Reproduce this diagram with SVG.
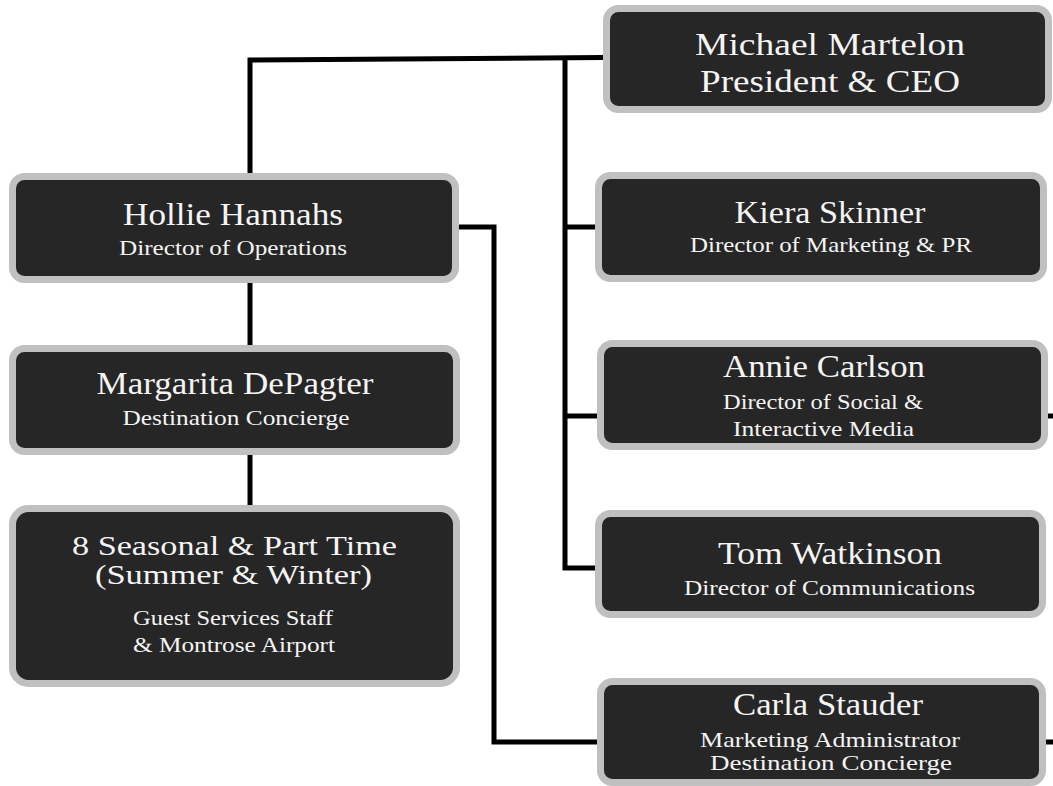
<svg xmlns="http://www.w3.org/2000/svg" width="1053" height="786" viewBox="0 0 1053 786">
<style>
.box{fill:#262626;stroke:#c0c0c0;stroke-width:7}
.t{font-family:"Liberation Serif","Times New Roman",serif;fill:#f4f4f4;text-anchor:middle}
.n{font-size:31px}
.m{font-size:27px}
.s{font-size:21px}
.c{fill:none;stroke:#000;stroke-width:5;stroke-linejoin:miter}
</style>
<rect width="1053" height="786" fill="#fff"/>
<g id="connectors">
<path class="c" d="M250,173 V60 L603,57.5"/>
<path class="c" d="M565,57.5 V568 H597"/>
<path class="c" d="M565,227 H597"/>
<path class="c" d="M565,416 H599"/>
<path class="c" d="M459,227 H494 V742 H599"/>
<path class="c" d="M250,283 V347"/>
<path class="c" d="M250,455 V507"/>
<path class="c" d="M1046,416 H1053"/>
<path class="c" d="M1044,742 H1053"/>
</g>
<g id="michael">
<rect class="box" x="606.5" y="8.5" width="442" height="101" rx="12"/>
<text class="t n" x="830" y="55" textLength="270" lengthAdjust="spacingAndGlyphs">Michael Martelon</text>
<text class="t n" x="830" y="92" textLength="260" lengthAdjust="spacingAndGlyphs">President &amp; CEO</text>
</g>
<g id="hollie">
<rect class="box" x="12.5" y="176.5" width="443" height="103" rx="12"/>
<text class="t n" x="233" y="225" textLength="220" lengthAdjust="spacingAndGlyphs">Hollie Hannahs</text>
<text class="t s" x="233" y="255" textLength="228" lengthAdjust="spacingAndGlyphs">Director of Operations</text>
</g>
<g id="margarita">
<rect class="box" x="12.5" y="348.5" width="444" height="103" rx="12"/>
<text class="t n" x="235" y="394" textLength="277" lengthAdjust="spacingAndGlyphs">Margarita DePagter</text>
<text class="t s" x="236" y="425" textLength="227" lengthAdjust="spacingAndGlyphs">Destination Concierge</text>
</g>
<g id="seasonal">
<rect class="box" x="12.5" y="508.5" width="444" height="175" rx="16"/>
<text class="t m" x="234.5" y="555" textLength="325" lengthAdjust="spacingAndGlyphs">8 Seasonal &amp; Part Time</text>
<text class="t m" x="233.5" y="584" textLength="277" lengthAdjust="spacingAndGlyphs">(Summer &amp; Winter)</text>
<text class="t s" x="233" y="625" textLength="200" lengthAdjust="spacingAndGlyphs">Guest Services Staff</text>
<text class="t s" x="234" y="652" textLength="202" lengthAdjust="spacingAndGlyphs">&amp; Montrose Airport</text>
</g>
<g id="kiera">
<rect class="box" x="598.5" y="175.5" width="445" height="103" rx="12"/>
<text class="t n" x="830" y="223" textLength="191" lengthAdjust="spacingAndGlyphs">Kiera Skinner</text>
<text class="t s" x="831" y="252" textLength="282" lengthAdjust="spacingAndGlyphs">Director of Marketing &amp; PR</text>
</g>
<g id="annie">
<rect class="box" x="600.5" y="343.5" width="444" height="103" rx="12"/>
<text class="t n" x="824" y="377" textLength="202" lengthAdjust="spacingAndGlyphs">Annie Carlson</text>
<text class="t s" x="823" y="409" textLength="200" lengthAdjust="spacingAndGlyphs">Director of Social &amp;</text>
<text class="t s" x="823.5" y="436" textLength="181" lengthAdjust="spacingAndGlyphs">Interactive Media</text>
</g>
<g id="tom">
<rect class="box" x="598.5" y="513.5" width="444" height="101" rx="12"/>
<text class="t n" x="830" y="564" textLength="224" lengthAdjust="spacingAndGlyphs">Tom Watkinson</text>
<text class="t s" x="829.5" y="595" textLength="291" lengthAdjust="spacingAndGlyphs">Director of Communications</text>
</g>
<g id="carla">
<rect class="box" x="600.5" y="681.5" width="442" height="101" rx="12"/>
<text class="t n" x="828" y="715" textLength="190" lengthAdjust="spacingAndGlyphs">Carla Stauder</text>
<text class="t s" x="830" y="747" textLength="260" lengthAdjust="spacingAndGlyphs">Marketing Administrator</text>
<text class="t s" x="831" y="770" textLength="242" lengthAdjust="spacingAndGlyphs">Destination Concierge</text>
</g>
</svg>
